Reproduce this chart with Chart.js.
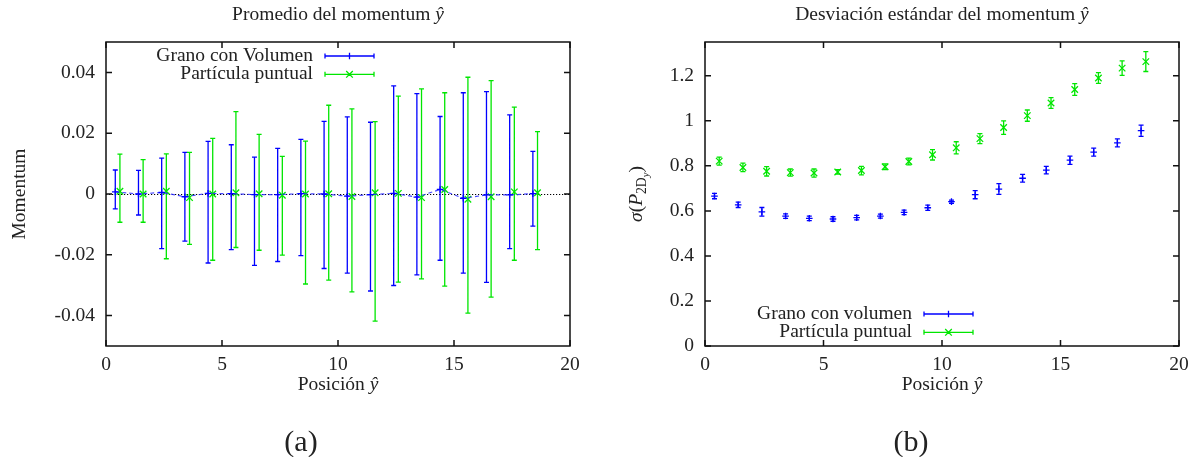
<!DOCTYPE html>
<html>
<head>
<meta charset="utf-8">
<script src="https://cdn.jsdelivr.net/npm/chart.js@4.4.1/dist/chart.umd.min.js"></script>
<style>
  html, body { margin: 0; background: #fff; }
  #wrap { position: relative; width: 1201px; height: 457px; }
  canvas { position: absolute; top: 0; }
</style>
</head>
<body>
<div id="wrap">
  <canvas id="promedio" width="600" height="457" style="left:0"></canvas>
  <canvas id="desviacion" width="601" height="457" style="left:600px"></canvas>
</div>
<script>
// posiciones de las celdas (los dos casos van desplazados para no taparse)
const posGrano   = [0.4, 1.4, 2.4, 3.4, 4.4, 5.4, 6.4, 7.4, 8.4, 9.4, 10.4, 11.4, 12.4, 13.4, 14.4, 15.4, 16.4, 17.4, 18.4];
const posPuntual = [0.6, 1.6, 2.6, 3.6, 4.6, 5.6, 6.6, 7.6, 8.6, 9.6, 10.6, 11.6, 12.6, 13.6, 14.6, 15.6, 16.6, 17.6, 18.6];

const ticksX = [0, 5, 10, 15, 20];
const ticksPromedio = [-0.04, -0.02, 0, 0.02, 0.04];
const ticksDesviacion = [0, 0.2, 0.4, 0.6, 0.8, 1, 1.2];

// (a) promedio del momentum: valor medio y extremos de cada barra
const promGrano     = [0.0007, 0, 0.0005, -0.0009, 0.0002, 0.0001, -0.0002, -0.0002, 0.0001, 0, -0.0007, -0.0002, 0.0002, -0.001, 0.0015, -0.0014, -0.0003, -0.0003, 0.0001];
const promGranoBajo = [-0.0049, -0.0069, -0.0180, -0.0155, -0.0227, -0.0183, -0.0235, -0.0222, -0.0203, -0.0245, -0.0260, -0.0319, -0.0301, -0.0266, -0.0218, -0.0260, -0.0291, -0.0180, -0.0106];
const promGranoAlto = [0.0079, 0.0078, 0.0118, 0.0137, 0.0173, 0.0162, 0.0121, 0.0150, 0.0180, 0.0239, 0.0254, 0.0236, 0.0356, 0.0330, 0.0255, 0.0333, 0.0337, 0.0260, 0.0140];

const promPuntual     = [0.0009, 0, 0.0009, -0.0012, 0, 0.0004, 0.0001, -0.0004, 0, 0.0001, -0.0008, 0.0004, 0.0002, -0.0012, 0.0015, -0.0017, -0.0009, 0.0007, 0.0004];
const promPuntualBajo = [-0.0093, -0.0093, -0.0213, -0.0166, -0.0218, -0.0176, -0.0185, -0.0201, -0.0296, -0.0283, -0.0322, -0.0418, -0.0290, -0.0279, -0.0303, -0.0392, -0.0339, -0.0218, -0.0183];
const promPuntualAlto = [0.0131, 0.0113, 0.0132, 0.0137, 0.0183, 0.0271, 0.0196, 0.0124, 0.0174, 0.0292, 0.0280, 0.0238, 0.0322, 0.0346, 0.0333, 0.0384, 0.0373, 0.0286, 0.0205];

// (b) desviación estándar y su error
const desvGrano   = [0.666, 0.627, 0.596, 0.577, 0.567, 0.564, 0.570, 0.577, 0.593, 0.614, 0.641, 0.672, 0.697, 0.745, 0.781, 0.825, 0.861, 0.902, 0.956];
const errGrano    = [0.012, 0.012, 0.019, 0.010, 0.010, 0.010, 0.010, 0.009, 0.010, 0.012, 0.007, 0.018, 0.024, 0.017, 0.017, 0.018, 0.018, 0.018, 0.025];
const desvPuntual = [0.821, 0.793, 0.776, 0.770, 0.768, 0.773, 0.779, 0.796, 0.819, 0.849, 0.880, 0.921, 0.970, 1.023, 1.079, 1.139, 1.190, 1.234, 1.263];
const errPuntual  = [0.018, 0.019, 0.021, 0.016, 0.018, 0.010, 0.019, 0.013, 0.015, 0.023, 0.027, 0.022, 0.030, 0.025, 0.024, 0.026, 0.024, 0.032, 0.044];

const tinta = '#222';
const azul = '#0000ff';
const verde = '#00e600';
const FUENTE = "'Liberation Serif', 'Times New Roman', serif";
const TAM = 19.5;

Chart.defaults.font.family = FUENTE;
Chart.defaults.color = tinta;

// texto con trozos en cursiva / subíndice
function texto(ctx, partes, x, y, align, size) {
  const fuente = p => `${p.it ? 'italic ' : ''}${(p.s || 1) * size}px ${FUENTE}`;
  let total = 0;
  partes.forEach(p => { ctx.font = fuente(p); p.w = ctx.measureText(p.t).width; total += p.w; });
  let cx = align === 'center' ? x - total / 2 : align === 'right' ? x - total : x;
  ctx.textAlign = 'left';
  ctx.textBaseline = 'alphabetic';
  ctx.fillStyle = tinta;
  partes.forEach(p => { ctx.font = fuente(p); ctx.fillText(p.t, cx, y + (p.dy || 0)); cx += p.w; });
}

function marca(ctx, x, y, estilo) {
  const r = 3.3;
  if (estilo === 'cross') {
    ctx.moveTo(x - r, y); ctx.lineTo(x + r, y);
    ctx.moveTo(x, y - r); ctx.lineTo(x, y + r);
  } else {
    ctx.moveTo(x - r, y - r); ctx.lineTo(x + r, y + r);
    ctx.moveTo(x - r, y + r); ctx.lineTo(x + r, y - r);
  }
}

const CAP = 2.5;

const gnuplotEstilo = {
  id: 'gp',
  beforeDatasetsDraw(chart, args, opts) {
    const ctx = chart.ctx, a = chart.chartArea, ys = chart.scales.y;
    ctx.save();
    if (opts.cero) {
      const y0 = Math.round(ys.getPixelForValue(0)) + 0.5;
      ctx.strokeStyle = '#000';
      ctx.lineWidth = 1;
      ctx.setLineDash([1.2, 1.8]);
      ctx.beginPath(); ctx.moveTo(a.left, y0); ctx.lineTo(a.right, y0); ctx.stroke();
      ctx.setLineDash([]);
    }
    // barras de error de cada serie
    chart.data.datasets.forEach((ds, k) => {
      const meta = chart.getDatasetMeta(k);
      ctx.strokeStyle = ds.pointBorderColor;
      ctx.lineWidth = 1.3;
      ctx.beginPath();
      meta.data.forEach((pt, i) => {
        const d = ds.data[i];
        const top = ys.getPixelForValue(d.hi), bot = ys.getPixelForValue(d.lo);
        ctx.moveTo(pt.x, top); ctx.lineTo(pt.x, bot);
        ctx.moveTo(pt.x - CAP, top); ctx.lineTo(pt.x + CAP, top);
        ctx.moveTo(pt.x - CAP, bot); ctx.lineTo(pt.x + CAP, bot);
      });
      ctx.stroke();
    });
    ctx.restore();
  },
  afterDraw(chart, args, opts) {
    const ctx = chart.ctx, a = chart.chartArea;
    const xs = chart.scales.x, ys = chart.scales.y;
    ctx.save();
    // marco y marcas de los ejes hacia dentro, en los cuatro lados
    ctx.strokeStyle = '#111';
    ctx.lineWidth = 1.5;
    ctx.strokeRect(a.left, a.top, a.width, a.height);
    ctx.beginPath();
    xs.ticks.forEach(t => {
      const px = xs.getPixelForValue(t.value);
      ctx.moveTo(px, a.bottom); ctx.lineTo(px, a.bottom - 6);
      ctx.moveTo(px, a.top); ctx.lineTo(px, a.top + 6);
    });
    ys.ticks.forEach(t => {
      const py = ys.getPixelForValue(t.value);
      ctx.moveTo(a.left, py); ctx.lineTo(a.left + 6, py);
      ctx.moveTo(a.right, py); ctx.lineTo(a.right - 6, py);
    });
    ctx.stroke();

    const cx = (a.left + a.right) / 2, cy = (a.top + a.bottom) / 2;
    texto(ctx, opts.titulo, cx, 20, 'center', TAM);
    texto(ctx, [{ t: 'Posición ' }, { t: 'ŷ', it: true }], cx, 390, 'center', TAM);
    texto(ctx, [{ t: opts.etiqueta }], opts.etiquetaX, 451, 'center', 30);

    ctx.save();
    ctx.translate(opts.ejeYx, cy);
    ctx.rotate(-Math.PI / 2);
    texto(ctx, opts.ejeY, 0, 0, 'center', TAM);
    ctx.restore();

    // leyenda
    const L = opts.leyenda;
    chart.data.datasets.forEach((ds, k) => {
      const y = L.y + k * 18.3;
      texto(ctx, [{ t: ds.label }], L.xTexto, y + 4.7, 'right', TAM);
      ctx.strokeStyle = ds.pointBorderColor;
      ctx.lineWidth = 1.3;
      ctx.beginPath();
      ctx.moveTo(L.x1, y); ctx.lineTo(L.x2, y);
      ctx.moveTo(L.x1, y - CAP); ctx.lineTo(L.x1, y + CAP);
      ctx.moveTo(L.x2, y - CAP); ctx.lineTo(L.x2, y + CAP);
      marca(ctx, (L.x1 + L.x2) / 2, y, ds.pointStyle);
      ctx.stroke();
    });
    ctx.restore();
  }
};

function puntos(xs, ys, bajo, alto) {
  return xs.map((x, i) => ({ x, y: ys[i], lo: bajo[i], hi: alto[i] }));
}

function serie(label, data, color, estilo, extra) {
  return Object.assign({
    label, data,
    borderColor: color,
    backgroundColor: color,
    pointBorderColor: color,
    pointStyle: estilo,
    pointRadius: estilo === 'cross' ? 3.3 : 4.6,
    pointBorderWidth: 1.3,
    pointHoverRadius: 0,
    showLine: false
  }, extra || {});
}

function opciones(ticksY, minY, maxY, padDer, anchoY, gp) {
  return {
    responsive: false,
    animation: false,
    events: [],
    layout: { padding: { left: 0, right: padDer, top: 42, bottom: 0 } },
    scales: {
      x: {
        type: 'linear', min: 0, max: 20,
        afterBuildTicks: s => { s.ticks = ticksX.map(v => ({ value: v })); },
        afterFit: s => { s.height = 111; },
        grid: { display: false, drawTicks: false }, border: { display: false },
        ticks: { color: tinta, font: { size: TAM }, padding: 7, maxRotation: 0, autoSkip: false, callback: v => String(v) }
      },
      y: {
        type: 'linear', min: minY, max: maxY,
        afterBuildTicks: s => { s.ticks = ticksY.map(v => ({ value: v })); },
        afterFit: s => { s.width = anchoY; },
        grid: { display: false, drawTicks: false }, border: { display: false },
        ticks: { color: tinta, font: { size: TAM }, padding: 11, autoSkip: false, callback: v => String(v) }
      }
    },
    plugins: { legend: { display: false }, tooltip: { enabled: false }, gp }
  };
}

new Chart(document.getElementById('promedio'), {
  type: 'scatter',
  data: {
    datasets: [
      serie('Grano con Volumen', puntos(posGrano, promGrano, promGranoBajo, promGranoAlto), azul, 'cross',
        { showLine: true, borderDash: [4, 3], borderWidth: 1.2, borderColor: 'rgba(40,40,255,0.85)' }),
      serie('Partícula puntual', puntos(posPuntual, promPuntual, promPuntualBajo, promPuntualAlto), verde, 'crossRot')
    ]
  },
  options: opciones(ticksPromedio, -0.05, 0.05, 30, 106, {
    titulo: [{ t: 'Promedio del momentum ' }, { t: 'ŷ', it: true }],
    ejeY: [{ t: 'Momentum' }],
    ejeYx: 25,
    etiqueta: '(a)', etiquetaX: 301,
    cero: true,
    leyenda: { xTexto: 313, x1: 325, x2: 374, y: 56 }
  }),
  plugins: [gnuplotEstilo]
});

new Chart(document.getElementById('desviacion'), {
  type: 'scatter',
  data: {
    datasets: [
      serie('Grano con volumen', puntos(posGrano, desvGrano,
        desvGrano.map((v, i) => v - errGrano[i]), desvGrano.map((v, i) => v + errGrano[i])), azul, 'cross'),
      serie('Partícula puntual', puntos(posPuntual, desvPuntual,
        desvPuntual.map((v, i) => v - errPuntual[i]), desvPuntual.map((v, i) => v + errPuntual[i])), verde, 'crossRot')
    ]
  },
  options: opciones(ticksDesviacion, 0, 1.35, 22, 105, {
    titulo: [{ t: 'Desviación estándar del momentum ' }, { t: 'ŷ', it: true }],
    ejeY: [{ t: 'σ', it: true }, { t: '(' }, { t: 'P', it: true }, { t: '2D', s: 0.7, dy: 4 }, { t: 'y', it: true, s: 0.55, dy: 7 }, { t: ')' }],
    ejeYx: 42,
    etiqueta: '(b)', etiquetaX: 311,
    cero: false,
    leyenda: { xTexto: 312, x1: 324, x2: 373, y: 314 }
  }),
  plugins: [gnuplotEstilo]
});
</script>
</body>
</html>
